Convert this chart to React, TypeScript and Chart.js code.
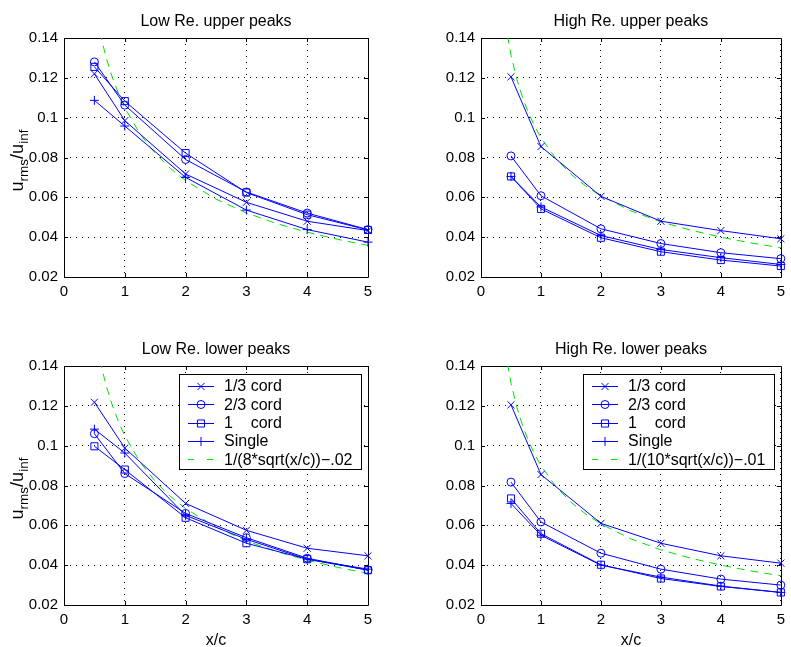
import React, { useEffect, useRef } from 'react';
import { Chart, registerables } from 'chart.js';

Chart.register(...registerables);

const FONT = '"Liberation Sans", Arial, Helvetica, sans-serif';
const BLUE = '#0000ff';
const GREEN = 'rgb(0,225,0)';

// ---------- data ----------
const xPositions = [0.5, 1, 2, 3, 4, 5];
const xTicks = [0, 1, 2, 3, 4, 5];
const xTickLabels = ['0', '1', '2', '3', '4', '5'];
const yTicks = [0.02, 0.04, 0.06, 0.08, 0.1, 0.12, 0.14];
const yTickLabels = ['0.02', '0.04', '0.06', '0.08', '0.1', '0.12', '0.14'];

const seriesNames = ['1/3 cord', '2/3 cord', '1    cord', 'Single'];
const panelTitles = ['Low Re. upper peaks', 'High Re. upper peaks', 'Low Re. lower peaks', 'High Re. lower peaks'];
const fitLabelLow = '1/(8*sqrt(x/c))\u2212.02';
const fitLabelHigh = '1/(10*sqrt(x/c))\u2212.01';

// Low Re. upper peaks
const lowUpperThird = [0.1220, 0.0985, 0.0717, 0.0575, 0.0480, 0.0433];
const lowUpperTwoThirds = [0.1280, 0.1063, 0.0790, 0.0627, 0.0521, 0.0438];
const lowUpperOne = [0.1255, 0.1083, 0.0822, 0.0624, 0.0513, 0.0436];
const lowUpperSingle = [0.1087, 0.0958, 0.0700, 0.0536, 0.0438, 0.0375];

// High Re. upper peaks
const highUpperThird = [0.1205, 0.0855, 0.0605, 0.0480, 0.0433, 0.0392];
const highUpperTwoThirds = [0.0808, 0.0608, 0.0442, 0.0368, 0.0322, 0.0292];
const highUpperOne = [0.0705, 0.0542, 0.0397, 0.0327, 0.0285, 0.0255];
const highUpperSingle = [0.0705, 0.0552, 0.0408, 0.0338, 0.0297, 0.0263];

// Low Re. lower peaks
const lowLowerThird = [0.1218, 0.0988, 0.0710, 0.0575, 0.0485, 0.0447];
const lowLowerTwoThirds = [0.1060, 0.0860, 0.0660, 0.0538, 0.0435, 0.0375];
const lowLowerOne = [0.0997, 0.0880, 0.0638, 0.0510, 0.0430, 0.0375];
const lowLowerSingle = [0.1083, 0.0963, 0.0650, 0.0530, 0.0430, 0.0380];

// High Re. lower peaks
const highLowerThird = [0.1205, 0.0855, 0.0610, 0.0510, 0.0447, 0.0410];
const highLowerTwoThirds = [0.0817, 0.0617, 0.0460, 0.0380, 0.0330, 0.0300];
const highLowerOne = [0.0735, 0.0558, 0.0402, 0.0333, 0.0293, 0.0263];
const highLowerSingle = [0.0710, 0.0550, 0.0400, 0.0340, 0.0295, 0.0263];

// dashed green reference curves
const fitLowX = [0.5, 0.6, 0.7, 0.8, 0.9, 1, 1.25, 1.5, 1.75, 2, 2.5, 3, 3.5, 4, 4.5, 5];
const fitLowY = [0.1568, 0.1414, 0.1294, 0.1198, 0.1118, 0.1050, 0.0918, 0.0821, 0.0745, 0.0684, 0.0591, 0.0522, 0.0468, 0.0425, 0.0389, 0.0359];
const fitHighX = [0.4, 0.5, 0.6, 0.7, 0.8, 0.9, 1, 1.25, 1.5, 1.75, 2, 2.5, 3, 3.5, 4, 4.5, 5];
const fitHighY = [0.1481, 0.1314, 0.1191, 0.1095, 0.1018, 0.0954, 0.0900, 0.0794, 0.0716, 0.0656, 0.0607, 0.0532, 0.0477, 0.0435, 0.0400, 0.0371, 0.0347];

// ---------- styles ----------
const markerStyles = ['crossRot', 'circle', 'rect', 'cross'];
const markerRadii = [5, 4, 5, 4.5];

type Spec = {
  title: string;
  series: number[][];
  fitX: number[];
  fitY: number[];
  fitLabel: string;
  legend: boolean;
  xLabel: boolean;
  yLabel: boolean;
  left: number;
  top: number;
  width: number;
  height: number;
  padTop: number;
  padRight: number;
  yWidth: number;
  xHeight: number;
};

const specs: Spec[] = [
  { title: panelTitles[0], series: [lowUpperThird, lowUpperTwoThirds, lowUpperOne, lowUpperSingle], fitX: fitLowX, fitY: fitLowY, fitLabel: fitLabelLow, legend: false, xLabel: false, yLabel: true, left: 0, top: 0, width: 395, height: 323, padTop: 38, padRight: 27, yWidth: 64, xHeight: 46 },
  { title: panelTitles[1], series: [highUpperThird, highUpperTwoThirds, highUpperOne, highUpperSingle], fitX: fitHighX, fitY: fitHighY, fitLabel: fitLabelHigh, legend: false, xLabel: false, yLabel: false, left: 395, top: 0, width: 396, height: 323, padTop: 38, padRight: 6, yWidth: 86, xHeight: 46 },
  { title: panelTitles[2], series: [lowLowerThird, lowLowerTwoThirds, lowLowerOne, lowLowerSingle], fitX: fitLowX, fitY: fitLowY, fitLabel: fitLabelLow, legend: true, xLabel: true, yLabel: true, left: 0, top: 323, width: 395, height: 324, padTop: 43, padRight: 27, yWidth: 64, xHeight: 42 },
  { title: panelTitles[3], series: [highLowerThird, highLowerTwoThirds, highLowerOne, highLowerSingle], fitX: fitHighX, fitY: fitHighY, fitLabel: fitLabelHigh, legend: true, xLabel: true, yLabel: false, left: 395, top: 323, width: 396, height: 324, padTop: 43, padRight: 6, yWidth: 86, xHeight: 42 },
];

function drawMarker(ctx: CanvasRenderingContext2D, style: string, x: number, y: number, r: number) {
  ctx.beginPath();
  if (style === 'circle') {
    ctx.arc(x, y, r, 0, Math.PI * 2);
  } else if (style === 'rect') {
    const h = r * Math.SQRT1_2;
    ctx.rect(x - h, y - h, 2 * h, 2 * h);
  } else if (style === 'cross') {
    ctx.moveTo(x - r, y); ctx.lineTo(x + r, y);
    ctx.moveTo(x, y - r); ctx.lineTo(x, y + r);
  } else {
    const h = r * Math.SQRT1_2;
    ctx.moveTo(x - h, y - h); ctx.lineTo(x + h, y + h);
    ctx.moveTo(x - h, y + h); ctx.lineTo(x + h, y - h);
  }
  ctx.stroke();
}

function makeDecor(spec: Spec) {
  return {
    id: 'panelDecor',
    beforeDatasetsDraw(chart: any) {
      const { ctx, chartArea: ca, scales } = chart;
      ctx.save();
      ctx.strokeStyle = '#000';
      ctx.lineWidth = 1;
      ctx.setLineDash([]);
      ctx.beginPath();
      ctx.rect(Math.round(ca.left) + 0.5, Math.round(ca.top) + 0.5, Math.round(ca.right) - Math.round(ca.left), Math.round(ca.bottom) - Math.round(ca.top));
      ctx.stroke();
      const tl = 4;
      ctx.beginPath();
      xTicks.slice(1, -1).forEach((v) => {
        const px = Math.round(scales.x.getPixelForValue(v)) + 0.5;
        ctx.moveTo(px, ca.bottom); ctx.lineTo(px, ca.bottom - tl);
        ctx.moveTo(px, ca.top); ctx.lineTo(px, ca.top + tl);
      });
      yTicks.slice(1, -1).forEach((v) => {
        const py = Math.round(scales.y.getPixelForValue(v)) + 0.5;
        ctx.moveTo(ca.left, py); ctx.lineTo(ca.left + tl, py);
        ctx.moveTo(ca.right, py); ctx.lineTo(ca.right - tl, py);
      });
      ctx.stroke();
      ctx.restore();
    },
    afterDatasetsDraw(chart: any) {
      if (!spec.legend) return;
      const { ctx, chartArea: ca } = chart;
      ctx.save();
      ctx.font = `16px ${FONT}`;
      const labels = [...seriesNames, spec.fitLabel];
      const maxW = Math.max(...labels.map((l) => ctx.measureText(l).width));
      const boxRight = Math.round(ca.right) - 7;
      const boxTop = Math.round(ca.top) + 8;
      const boxW = Math.round(45 + maxW + 9);
      const boxH = 95;
      const boxLeft = boxRight - boxW;
      ctx.fillStyle = '#fff';
      ctx.fillRect(boxLeft, boxTop, boxW, boxH);
      ctx.strokeStyle = '#000';
      ctx.lineWidth = 1;
      ctx.strokeRect(boxLeft + 0.5, boxTop + 0.5, boxW, boxH);
      labels.forEach((label, i) => {
        const y = boxTop + 11.7 + i * 18.4;
        const ly = Math.round(y) + 0.5;
        if (i < seriesNames.length) {
          ctx.strokeStyle = BLUE;
          ctx.setLineDash([]);
          ctx.beginPath();
          ctx.moveTo(boxLeft + 9, ly); ctx.lineTo(boxLeft + 35, ly);
          ctx.stroke();
          drawMarker(ctx, markerStyles[i], boxLeft + 22, ly, markerRadii[i]);
        } else {
          ctx.strokeStyle = GREEN;
          ctx.setLineDash([6, 13]);
          ctx.beginPath();
          ctx.moveTo(boxLeft + 9, ly); ctx.lineTo(boxLeft + 35, ly);
          ctx.stroke();
          ctx.setLineDash([]);
        }
        ctx.fillStyle = '#000';
        ctx.textAlign = 'left';
        ctx.textBaseline = 'middle';
        ctx.fillText(label, boxLeft + 45, y + 1);
      });
      ctx.restore();
    },
    afterDraw(chart: any) {
      const { ctx, chartArea: ca } = chart;
      const cx = (ca.left + ca.right) / 2;
      ctx.save();
      ctx.fillStyle = '#000';
      ctx.font = `16px ${FONT}`;
      ctx.textAlign = 'center';
      ctx.textBaseline = 'alphabetic';
      ctx.fillText(spec.title, cx, ca.top - 12);
      if (spec.xLabel) {
        ctx.textBaseline = 'middle';
        ctx.fillText('x/c', cx, ca.bottom + 36);
      }
      if (spec.yLabel) {
        const parts = [
          { t: 'u', sub: false },
          { t: 'rms', sub: true },
          { t: '/u', sub: false },
          { t: 'inf', sub: true },
        ];
        const mainFont = `18px ${FONT}`;
        const subFont = `13.5px ${FONT}`;
        const widths = parts.map((p) => {
          ctx.font = p.sub ? subFont : mainFont;
          return ctx.measureText(p.t).width;
        });
        const total = widths.reduce((a, b) => a + b, 0);
        ctx.translate(ca.left - 41, (ca.top + ca.bottom) / 2 + 3);
        ctx.rotate(-Math.PI / 2);
        ctx.textAlign = 'left';
        ctx.textBaseline = 'alphabetic';
        let x = -total / 2;
        parts.forEach((p, i) => {
          ctx.font = p.sub ? subFont : mainFont;
          ctx.fillText(p.t, x, p.sub ? 4.5 : 0);
          x += widths[i];
        });
      }
      ctx.restore();
    },
  };
}

function Panel({ spec }: { spec: Spec }) {
  const ref = useRef<HTMLCanvasElement | null>(null);
  useEffect(() => {
    if (!ref.current) return;
    const datasets: any[] = spec.series.map((vals, i) => ({
      label: seriesNames[i],
      data: xPositions.map((x, j) => ({ x, y: vals[j] })),
      borderColor: BLUE,
      borderWidth: 1,
      pointStyle: markerStyles[i],
      pointRadius: markerRadii[i],
      pointBorderColor: BLUE,
      pointBackgroundColor: 'rgba(0,0,0,0)',
      pointBorderWidth: 1,
      tension: 0,
      clip: false,
    }));
    datasets.push({
      label: spec.fitLabel,
      data: spec.fitX.map((x, j) => ({ x, y: spec.fitY[j] })),
      borderColor: GREEN,
      borderWidth: 1,
      borderDash: [8, 6],
      pointRadius: 0,
      tension: 0,
    });
    const chart = new Chart(ref.current, {
      type: 'line',
      data: { datasets },
      options: {
        animation: false,
        responsive: false,
        maintainAspectRatio: false,
        devicePixelRatio: 1,
        layout: { padding: { top: spec.padTop, right: spec.padRight, left: 0, bottom: 0 } },
        plugins: { legend: { display: false }, title: { display: false }, tooltip: { enabled: false } },
        scales: {
          x: {
            type: 'linear',
            min: 0,
            max: 5,
            afterBuildTicks: (s: any) => { s.ticks = xTicks.map((v) => ({ value: v })); },
            afterFit: (s: any) => { s.height = spec.xHeight; },
            ticks: {
              callback: (_v: any, i: number) => xTickLabels[i],
              font: { family: FONT, size: 15 },
              color: '#000',
              padding: 6,
              maxRotation: 0,
              autoSkip: false,
            },
            grid: { color: '#000', lineWidth: 1, drawTicks: false },
            border: { display: false, dash: [1, 5] },
          },
          y: {
            type: 'linear',
            min: 0.02,
            max: 0.14,
            afterBuildTicks: (s: any) => { s.ticks = yTicks.map((v) => ({ value: v })); },
            afterFit: (s: any) => { s.width = spec.yWidth; },
            ticks: {
              callback: (_v: any, i: number) => yTickLabels[i],
              font: { family: FONT, size: 15 },
              color: '#000',
              padding: 6,
              autoSkip: false,
            },
            grid: { color: '#000', lineWidth: 1, drawTicks: false },
            border: { display: false, dash: [1, 5] },
          },
        },
      } as any,
      plugins: [makeDecor(spec)],
    });
    return () => chart.destroy();
  }, [spec]);
  return (
    <canvas
      ref={ref}
      width={spec.width}
      height={spec.height}
      style={{ position: 'absolute', left: spec.left, top: spec.top, width: spec.width, height: spec.height }}
    />
  );
}

export default function App() {
  return (
    <div style={{ position: 'fixed', left: 0, top: 0, width: 791, height: 647, background: '#fff', overflow: 'hidden' }}>
      {specs.map((s, i) => (
        <Panel key={i} spec={s} />
      ))}
    </div>
  );
}
